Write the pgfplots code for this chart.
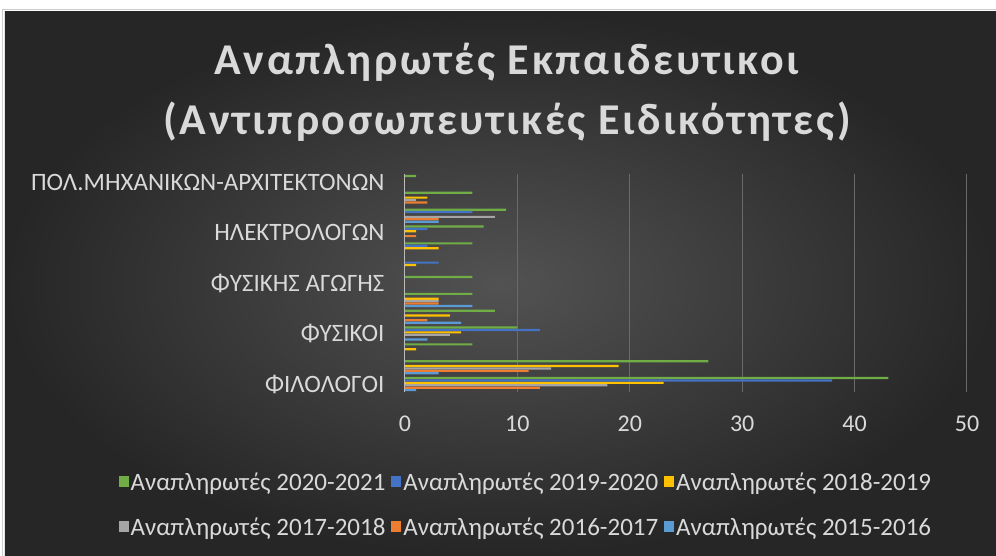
\documentclass[border=0pt]{standalone}
\usepackage{fontspec}
\setmainfont{Carlito}
\newfontfamily\titlefont[LetterSpace=6]{Carlito}
\usepackage{pgfplots}
\pgfplotsset{compat=1.18}
\definecolor{cGreen}{HTML}{70AD47}
\definecolor{cBlue}{HTML}{4472C4}
\definecolor{cYellow}{HTML}{FFC000}
\definecolor{cGray}{HTML}{A5A5A5}
\definecolor{cOrange}{HTML}{ED7D31}
\definecolor{cLtBlue}{HTML}{5B9BD5}
\definecolor{bgIn}{HTML}{525252}
\definecolor{bgOut}{HTML}{262626}
\definecolor{txt}{HTML}{D9D9D9}
\definecolor{gridc}{HTML}{6A6A6A}
\definecolor{axc}{HTML}{BFBFBF}
\begin{document}
\begin{tikzpicture}
\useasboundingbox (-405pt,-163.5pt) rectangle (591pt,392.5pt);
\fill[white] (-405pt,-163.5pt) rectangle (591pt,392.5pt);
\draw[gray!40, line width=1pt] (-402pt,-170pt) -- (-402pt,382.5pt) -- (600pt,382.5pt);
\shade[inner color=bgIn, outer color=bgOut] (-400pt,-163.5pt) rectangle (591pt,380.5pt);
\begin{axis}[
  at={(0pt,0pt)}, anchor=south west,
  scale only axis, width=562pt, height=218.9pt,
  xbar, xmin=0, xmax=50, ymin=-0.5, ymax=12.5,
  bar width=0.13,
  axis lines*=left,
  x axis line style={draw=none},
  y axis line style={draw=axc, line width=1pt},
  major tick length=0pt,
  tick style={draw=none},
  xtick={0,10,...,50},
  xmajorgrids,
  major grid style={draw=gridc, line width=1pt},
  ytick={0,3,6,9,12},
  yticklabels={ΦΙΛΟΛΟΓΟΙ, ΦΥΣΙΚΟΙ, ΦΥΣΙΚΗΣ ΑΓΩΓΗΣ, ΗΛΕΚΤΡΟΛΟΓΩΝ, ΠΟΛ.ΜΗΧΑΝΙΚΩΝ-ΑΡΧΙΤΕΚΤΟΝΩΝ},
  ticklabel style={text=txt},
  yticklabel style={font=\fontsize{25}{28}\selectfont, xshift=-17pt},
  xticklabel style={font=\fontsize{24}{28}\selectfont, yshift=-20pt},
  /pgf/number format/assume math mode=true,
  legend style={at={(0.215,-0.512)}, anchor=center, draw=none, fill=none,
    text=txt, font=\fontsize{25}{28}\selectfont, legend columns=3,
    /tikz/every even column/.append style={column sep=4pt}, row sep=22pt},
  legend cell align=left,
  legend image code/.code={\fill[#1, draw=none] (0pt,-5pt) rectangle (10pt,6pt);},
]
\addplot[fill=cGreen, draw=none, bar shift=0.3575] coordinates {(43,0)(27,1)(6,2)(10,3)(8,4)(6,5)(6,6)(0,7)(6,8)(7,9)(9,10)(6,11)(1,12)};
\addplot[fill=cBlue, draw=none, bar shift=0.2145] coordinates {(38,0)(0,1)(0,2)(12,3)(0,4)(0,5)(0,6)(3,7)(2,8)(2,9)(6,10)(0,11)(0,12)};
\addplot[fill=cYellow, draw=none, bar shift=0.0715] coordinates {(23,0)(19,1)(1,2)(5,3)(4,4)(3,5)(0,6)(1,7)(3,8)(1,9)(0,10)(2,11)(0,12)};
\addplot[fill=cGray, draw=none, bar shift=-0.0715] coordinates {(18,0)(13,1)(0,2)(4,3)(0,4)(3,5)(0,6)(0,7)(0,8)(0,9)(8,10)(1,11)(0,12)};
\addplot[fill=cOrange, draw=none, bar shift=-0.2145] coordinates {(12,0)(11,1)(0,2)(0,3)(2,4)(3,5)(0,6)(0,7)(0,8)(1,9)(3,10)(2,11)(0,12)};
\addplot[fill=cLtBlue, draw=none, bar shift=-0.3575] coordinates {(1,0)(3,1)(0,2)(2,3)(5,4)(6,5)(0,6)(0,7)(0,8)(0,9)(3,10)(0,11)(0,12)};
\legend{Αναπληρωτές 2020-2021, Αναπληρωτές 2019-2020, Αναπληρωτές 2018-2019, Αναπληρωτές 2017-2018, Αναπληρωτές 2016-2017, Αναπληρωτές 2015-2016}
\end{axis}
\node[text=txt, font=\titlefont\bfseries\fontsize{44}{52}\selectfont] at (102pt,330.5pt) {Αναπληρωτές Εκπαιδευτικοι};
\node[text=txt, font=\titlefont\bfseries\fontsize{44}{52}\selectfont] at (102pt,270.5pt) {(Αντιπροσωπευτικές Ειδικότητες)};
\end{tikzpicture}
\end{document}
